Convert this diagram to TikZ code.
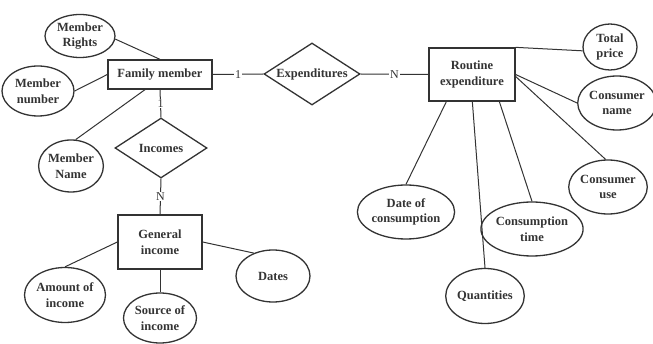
\documentclass[tikz,border=0pt]{standalone}
\usepackage{fontspec}
\setmainfont{Liberation Serif}
\usetikzlibrary{shapes.geometric,calc}
\definecolor{ink}{HTML}{333333}
\begin{document}
\begin{tikzpicture}[x=1pt,y=-1pt,
  attr/.style={ellipse, draw=ink, line width=1.3pt, inner sep=0pt, align=center,
    font=\bfseries\fontsize{12.5}{15.5}\selectfont, text=ink},
  ent/.style={rectangle, draw=ink, line width=1.3pt, inner sep=0pt, align=center,
    font=\bfseries\fontsize{12.5}{15.5}\selectfont, text=ink},
  rel/.style={diamond, draw=ink, line width=1.3pt, inner sep=0pt, align=center,
    font=\bfseries\fontsize{12.5}{15.5}\selectfont, text=ink},
  conn/.style={draw=ink, line width=1pt},
  card/.style={fill=white, inner sep=1pt, text=ink, font=\fontsize{12}{12}\selectfont}]
\useasboundingbox (0,0) rectangle (653,344);
% entities
\node[ent, minimum width=104pt, minimum height=29pt] (fm) at (160,74.5) {Family member};
\node[ent, minimum width=84pt, minimum height=54pt] (gi) at (160,242) {General\\income};
\node[ent, minimum width=86pt, minimum height=53pt] (re) at (472,74.5) {Routine\\expenditure};
% relationships
\node[rel, minimum width=96pt, minimum height=62pt, shape aspect=1.55] (ex) at (312,74) {Expenditures};
\node[rel, minimum width=92pt, minimum height=60pt, shape aspect=1.55] (in) at (161,148) {Incomes};
% attributes
\node[attr, minimum width=70pt, minimum height=43pt] (mr) at (80,36) {Member\\Rights};
\node[attr, minimum width=72pt, minimum height=50pt] (mn) at (38,91) {Member\\number};
\node[attr, minimum width=64pt, minimum height=52pt] (mna) at (71,166) {Member\\Name};
\node[attr, minimum width=78pt, minimum height=55pt] (ai) at (65,295) {Amount of\\income};
\node[attr, minimum width=73pt, minimum height=50pt] (si) at (160,318) {Source of\\income};
\node[attr, minimum width=74pt, minimum height=52pt] (da) at (273,276) {Dates};
\node[attr, minimum width=54pt, minimum height=46pt] (tp) at (610,47) {Total\\price};
\node[attr, minimum width=66pt, minimum height=54pt] (cn) at (617,103) {Consumer\\name};
\node[attr, minimum width=74pt, minimum height=54pt] (cu) at (608,187) {Consumer\\use};
\node[attr, minimum width=94pt, minimum height=54pt] (dc) at (406,212) {Date of\\consumption};
\node[attr, minimum width=76pt, minimum height=55pt] (qu) at (485,296) {Quantities};
\node[attr, minimum width=94pt, minimum height=54pt] (ct) at (532,229) {Consumption\\time};
% connectors
\draw[conn] (fm.east) -- node[card]{1} (ex.west);
\draw[conn] (ex.east) -- node[card]{N} (re.west);
\draw[conn] (fm.south) -- node[card]{1} (in.north);
\draw[conn] (in.south) -- node[card]{N} (gi.north);
\draw[conn] (mr.-5) -- (fm.north);
\draw[conn] (mn.east) -- (fm.west);
\draw[conn] (mna.80) -- ($(fm.south)+(-15,0)$);
\draw[conn] (gi.west) -- (ai.north);
\draw[conn] (gi.south) -- (si.north);
\draw[conn] (gi.east) -- (da.130);
\draw[conn] (re.north east) -- (tp.188);
\draw[conn] (re.east) -- (cn.west);
\draw[conn] ($(re.east)+(0,2)$) -- (cu.95);
\draw[conn] ($(re.south west)+(18,0)$) -- (dc.north);
\draw[conn] ($(re.south west)+(44,0)$) -- (qu.north);
\draw[conn] ($(re.south west)+(71,0)$) -- (ct.north);
\end{tikzpicture}
\end{document}
